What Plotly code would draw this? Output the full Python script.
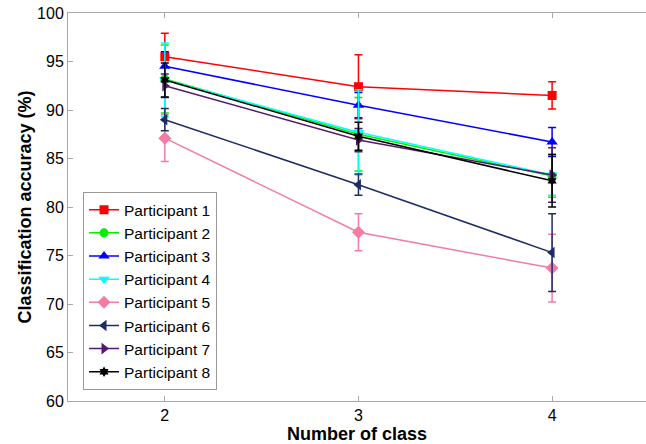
import plotly.graph_objects as go

classes = [2, 3, 4]
names = ["Participant 1", "Participant 2", "Participant 3", "Participant 4",
         "Participant 5", "Participant 6", "Participant 7", "Participant 8"]
p1 = [95.5, 92.4, 91.5]
p2 = [93.2, 87.5, 83.2]
p3 = [94.5, 90.5, 86.7]
p4 = [93.1, 87.7, 83.3]
p5 = [87.1, 77.4, 73.7]
p6 = [89.0, 82.3, 75.3]
p7 = [92.5, 86.9, 83.3]
p8 = [93.1, 87.3, 82.7]
e1 = [2.4, 3.3, 1.4]
e2 = [3.5, 3.8, 2.2]
e3 = [1.5, 1.3, 1.5]
e4 = [3.8, 4.4, 2.1]
e5 = [2.4, 1.9, 3.5]
e6 = [1.15, 1.1, 4.0]
e7 = [1.2, 1.2, 2.8]
e8 = [1.75, 1.45, 2.7]

series = [p1, p2, p3, p4, p5, p6, p7, p8]
errors = [e1, e2, e3, e4, e5, e6, e7, e8]
colors = ["#ff0000", "#00ee00", "#0000ff", "#00ffff", "#f27ca4", "#1c2d66", "#55186e", "#000000"]
symbols = ["square", "circle", "triangle-up", "triangle-down", "diamond",
           "triangle-left", "triangle-right", "hexagram"]
sizes = [9, 9, 10, 10, 10, 10, 10, 8]

fig = go.Figure()
for name, ys, es, c, s, sz in zip(names, series, errors, colors, symbols, sizes):
    fig.add_trace(go.Scatter(
        x=classes, y=ys, name=name, mode="lines+markers",
        line=dict(color=c, width=1.5),
        marker=dict(symbol=s, size=sz, color=c),
        error_y=dict(type="data", array=es, visible=True, color=c, thickness=1.5, width=4),
    ))

axcol = "#a8a8a8"
fig.update_layout(
    width=646, height=444,
    margin=dict(l=68, r=0, t=13, b=43),
    plot_bgcolor="white", paper_bgcolor="white",
    font=dict(family="Liberation Sans, Arial, sans-serif", size=16, color="black"),
    showlegend=True,
    legend=dict(x=0.026, y=0.028, xanchor="left", yanchor="bottom",
                bgcolor="white", bordercolor="#999999", borderwidth=1,
                font=dict(size=15.5), tracegroupgap=0, itemwidth=30),
    xaxis=dict(range=[1.5, 4.485], tickvals=classes, ticktext=[str(v) for v in classes],
               automargin=False,
               showgrid=False, zeroline=False, showline=True, linecolor=axcol, linewidth=1,
               mirror="ticks", ticks="inside", ticklen=5, tickcolor=axcol,
               title=dict(text="<b>Number of class</b>", font=dict(size=18), standoff=4)),
    yaxis=dict(range=[60, 100], dtick=5, showgrid=False, zeroline=False,
               automargin=False,
               showline=True, linecolor=axcol, linewidth=1, mirror=False,
               ticks="inside", ticklen=5, tickcolor=axcol,
               title=dict(text="<b>Classification accuracy (%)</b>", font=dict(size=18), standoff=0)),
)
fig.write_html("out.html", config={"displayModeBar": False},
               post_script="document.body.style.margin='0';document.body.style.padding='0';document.body.style.overflow='hidden';")
